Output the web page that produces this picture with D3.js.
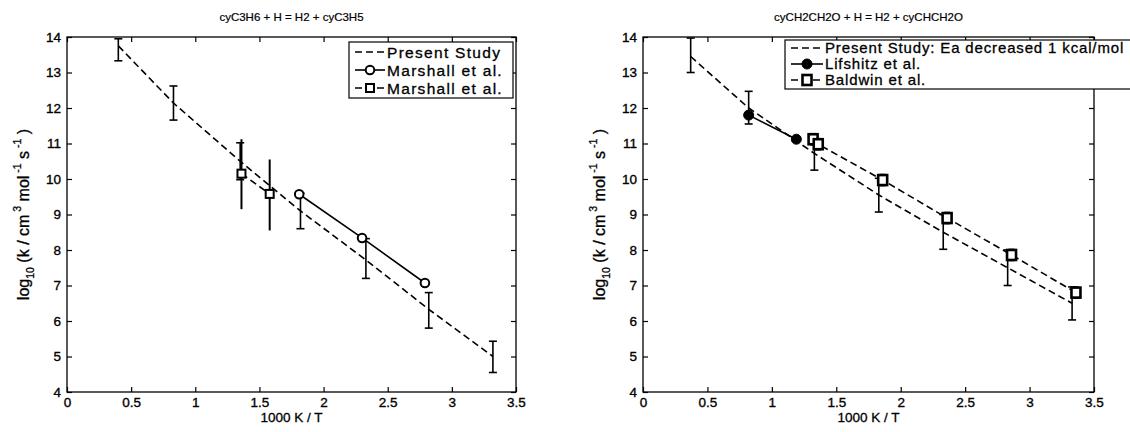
<!DOCTYPE html>
<html>
<head>
<meta charset="utf-8">
<script src="https://cdn.jsdelivr.net/npm/d3@7"></script>
<style>
  html, body { margin: 0; padding: 0; background: #fff; }
  svg { display: block; }
  text { font-family: "Liberation Sans", Arial, sans-serif; fill: #000; }
</style>
</head>
<body>
<svg id="chart" width="1130" height="432"></svg>
<script>
// Shared axis settings
const xDomain = [0, 3.5];
const yDomain = [4, 14];
const xTickValues = [0, 0.5, 1, 1.5, 2, 2.5, 3, 3.5];
const xTickLabels = ["0", "0.5", "1", "1.5", "2", "2.5", "3", "3.5"];
const yTickValues = [4, 5, 6, 7, 8, 9, 10, 11, 12, 13, 14];
const yTickLabels = ["4", "5", "6", "7", "8", "9", "10", "11", "12", "13", "14"];
const xAxisTitle = "1000 K / T";

// Panel 1: cyclopropane + H
const c3Title = "cyC3H6 + H = H2 + cyC3H5";
const c3Legend = ["Present Study", "Marshall et al.", "Marshall et al."];
const c3StudyX = [0.40, 0.83, 1.35, 1.82, 2.33, 2.82, 3.32];
const c3StudyY = [13.75, 12.14, 10.50, 9.10, 7.72, 6.33, 5.00];
const c3StudyLo = [13.33, 11.66, 9.98, 8.60, 7.20, 5.80, 4.55];
const c3StudyHi = [13.95, 12.62, 11.02, 9.60, 8.32, 6.80, 5.43];
const c3CircX = [1.81, 2.30, 2.79];
const c3CircY = [9.57, 8.34, 7.07];
const c3SqX = [1.36, 1.58];
const c3SqY = [10.15, 9.58];
const c3SqLo = [9.15, 8.55];
const c3SqHi = [11.12, 10.55];

// Panel 2: oxirane + H
const oxTitle = "cyCH2CH2O + H = H2 + cyCHCH2O";
const oxLegend = ["Present Study: Ea decreased 1 kcal/mol", "Lifshitz et al.", "Baldwin et al."];
const oxStudyX = [0.37, 0.82, 1.33, 1.83, 2.33, 2.83, 3.33];
const oxStudyY = [13.45, 12.00, 10.72, 9.55, 8.50, 7.50, 6.50];
const oxStudyLo = [13.00, 11.55, 10.25, 9.07, 8.02, 7.00, 6.03];
const oxStudyHi = [13.97, 12.47, 11.20, 10.02, 9.00, 8.00, 6.96];
const oxLifX = [0.82, 1.19];
const oxLifY = [11.80, 11.12];
const oxBalX = [1.32, 1.36, 1.86, 2.36, 2.86, 3.36];
const oxBalY = [11.12, 10.98, 9.97, 8.90, 7.86, 6.80];
const oxBalLo = [10.97, 10.83, 9.82, 8.75, 7.71, 6.65];
const oxBalHi = [11.27, 11.13, 10.12, 9.05, 8.01, 6.95];

const svg = d3.select("#chart");
const DASH = "7,4";
const INK = "#000";

function drawPanel(cfg) {
  const { left, right, top, bottom } = cfg;
  const x = d3.scaleLinear().domain(xDomain).range([left, right]);
  const y = d3.scaleLinear().domain(yDomain).range([bottom, top]);
  const g = svg.append("g");

  const clipId = "clip" + cfg.id;
  svg.append("clipPath").attr("id", clipId)
    .append("rect").attr("x", left).attr("y", top)
    .attr("width", right - left).attr("height", bottom - top);

  const fmt = d => xTickLabels[xTickValues.indexOf(d)];
  const fmtY = d => yTickLabels[yTickValues.indexOf(d)];

  // axes with inward ticks on all four sides
  const axB = g.append("g").attr("transform", `translate(0,${bottom})`)
    .call(d3.axisBottom(x).tickValues(xTickValues).tickFormat(fmt).tickSize(-5).tickPadding(5));
  const axT = g.append("g").attr("transform", `translate(0,${top})`)
    .call(d3.axisTop(x).tickValues(xTickValues).tickFormat("").tickSize(-5));
  const axL = g.append("g").attr("transform", `translate(${left},0)`)
    .call(d3.axisLeft(y).tickValues(yTickValues).tickFormat(fmtY).tickSize(-5).tickPadding(6));
  const axR = g.append("g").attr("transform", `translate(${right},0)`)
    .call(d3.axisRight(y).tickValues(yTickValues).tickFormat("").tickSize(-5));
  [axB, axT, axL, axR].forEach(a => {
    a.select(".domain").remove();
    a.selectAll("line").attr("stroke", INK).attr("stroke-width", 1.2);
    a.selectAll("text").attr("font-size", 13.5).attr("fill", INK)
      .attr("stroke", INK).attr("stroke-width", 0.35)
      .attr("font-family", "Liberation Sans, Arial, sans-serif");
  });

  g.append("rect").attr("x", left).attr("y", top)
    .attr("width", right - left).attr("height", bottom - top)
    .attr("fill", "none").attr("stroke", INK).attr("stroke-width", 1.3);

  // titles
  g.append("text").attr("x", (left + right) / 2).attr("y", 21)
    .attr("text-anchor", "middle").attr("font-size", 11.5)
    .attr("stroke", INK).attr("stroke-width", 0.2).text(cfg.title);
  g.append("text").attr("x", (left + right) / 2).attr("y", 422)
    .attr("text-anchor", "middle").attr("font-size", 13.5)
    .attr("stroke", INK).attr("stroke-width", 0.3).text(xAxisTitle);

  const yl = g.append("text")
    .attr("transform", `translate(${left - 38},${(top + bottom) / 2}) rotate(-90)`)
    .attr("text-anchor", "middle").attr("font-size", 16)
    .attr("stroke", INK).attr("stroke-width", 0.3);
  yl.append("tspan").text("log");
  yl.append("tspan").attr("font-size", 10.5).attr("dy", 5).text("10");
  yl.append("tspan").attr("dy", -5).text(" (k / cm");
  yl.append("tspan").attr("font-size", 10.5).attr("dy", -8).text(" 3");
  yl.append("tspan").attr("dy", 8).text(" mol");
  yl.append("tspan").attr("font-size", 10.5).attr("dy", -8).text(" -1");
  yl.append("tspan").attr("dy", 8).text(" s");
  yl.append("tspan").attr("font-size", 10.5).attr("dy", -8).text(" -1");
  yl.append("tspan").attr("dy", 8).text(" )");

  const plot = g.append("g").attr("clip-path", `url(#${clipId})`);
  const line = d3.line().x(d => x(d[0])).y(d => y(d[1]));

  // error bars
  function errBars(xs, lo, hi, cap, sw) {
    xs.forEach((xv, i) => {
      const px = x(xv);
      plot.append("line").attr("x1", px).attr("x2", px)
        .attr("y1", y(lo[i])).attr("y2", y(hi[i]))
        .attr("stroke", INK).attr("stroke-width", sw);
      if (cap > 0) {
        [lo[i], hi[i]].forEach(v => plot.append("line")
          .attr("x1", px - cap).attr("x2", px + cap)
          .attr("y1", y(v)).attr("y2", y(v))
          .attr("stroke", INK).attr("stroke-width", sw));
      }
    });
  }

  cfg.series.forEach(s => {
    const pts = s.x.map((v, i) => [v, s.y[i]]);
    if (s.lo) errBars(s.x, s.lo, s.hi, s.cap, s.ebw || 1.6);
    plot.append("path").attr("d", line(pts)).attr("fill", "none")
      .attr("stroke", INK).attr("stroke-width", s.lw || 1.6)
      .attr("stroke-dasharray", s.dash ? DASH : null);
    drawMarkers(plot, pts.map(p => [x(p[0]), y(p[1])]), s.marker);
  });

  // legend
  const L = cfg.legend;
  const lg = g.append("g");
  lg.append("rect").attr("x", L.x).attr("y", L.y).attr("width", L.w).attr("height", L.h)
    .attr("fill", "#fff").attr("stroke", INK).attr("stroke-width", 1.2);
  cfg.series.forEach((s, i) => {
    const ry = L.y + L.row0 + i * L.dy;
    lg.append("line").attr("x1", L.x + 6).attr("x2", L.x + 6 + L.sample)
      .attr("y1", ry).attr("y2", ry).attr("stroke", INK).attr("stroke-width", 1.6)
      .attr("stroke-dasharray", s.dash ? DASH : null);
    drawMarkers(lg, [[L.x + 6 + L.sample / 2, ry]], s.marker);
    lg.append("text").attr("x", L.x + 8 + L.sample).attr("y", ry + L.fs * 0.36)
      .attr("font-size", L.fs).attr("letter-spacing", L.ls)
      .attr("stroke", INK).attr("stroke-width", 0.3).text(s.label);
  });
}

function drawMarkers(parent, pts, type) {
  pts.forEach(([px, py]) => {
    if (type === "circle") {
      parent.append("circle").attr("cx", px).attr("cy", py).attr("r", 4.3)
        .attr("fill", "#fff").attr("stroke", INK).attr("stroke-width", 2);
    } else if (type === "dot") {
      parent.append("circle").attr("cx", px).attr("cy", py).attr("r", 5)
        .attr("fill", INK).attr("stroke", INK).attr("stroke-width", 1);
    } else if (type === "square") {
      parent.append("rect").attr("x", px - 4).attr("y", py - 4).attr("width", 8).attr("height", 8)
        .attr("fill", "#fff").attr("stroke", INK).attr("stroke-width", 2);
    } else if (type === "boldsquare") {
      parent.append("rect").attr("x", px - 4.5).attr("y", py - 5).attr("width", 9).attr("height", 10)
        .attr("fill", "#fff").attr("stroke", INK).attr("stroke-width", 2.6);
    }
  });
}

drawPanel({
  id: 1, left: 67, right: 516, top: 37, bottom: 392, title: c3Title,
  legend: { x: 349, y: 42, w: 164, h: 56, row0: 10, dy: 18, sample: 30, fs: 15.5, ls: 1.3 },
  series: [
    { label: c3Legend[0], x: c3StudyX, y: c3StudyY, lo: c3StudyLo, hi: c3StudyHi, cap: 4, dash: true, marker: null },
    { label: c3Legend[1], x: c3CircX, y: c3CircY, dash: false, marker: "circle" },
    { label: c3Legend[2], x: c3SqX, y: c3SqY, lo: c3SqLo, hi: c3SqHi, cap: 0, ebw: 2, dash: true, marker: "square" }
  ]
});

drawPanel({
  id: 2, left: 643, right: 1094, top: 37, bottom: 392, title: oxTitle,
  legend: { x: 785, y: 40, w: 360, h: 49, row0: 8, dy: 16, sample: 32, fs: 15, ls: 0.85 },
  series: [
    { label: oxLegend[0], x: oxStudyX, y: oxStudyY, lo: oxStudyLo, hi: oxStudyHi, cap: 4, dash: true, marker: null },
    { label: oxLegend[1], x: oxLifX, y: oxLifY, dash: false, marker: "dot" },
    { label: oxLegend[2], x: oxBalX, y: oxBalY, lo: oxBalLo, hi: oxBalHi, cap: 3, ebw: 2, dash: true, marker: "boldsquare" }
  ]
});
</script>
</body>
</html>
